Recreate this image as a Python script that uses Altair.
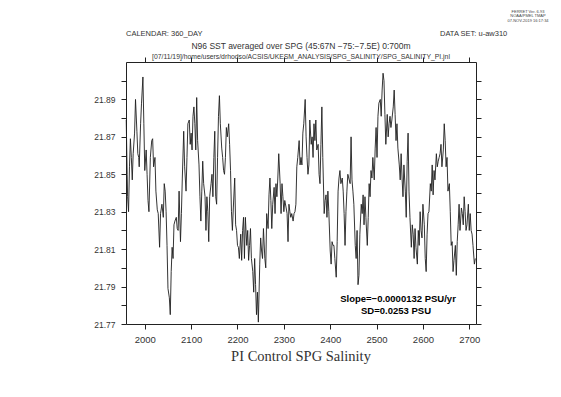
import altair as alt
import pandas as pd

years = [1960, 1962, 1963, 1965, 1967, 1969, 1971, 1973, 1975, 1978, 1980, 1983, 1985, 1987, 1988,
         1991, 1993, 1996, 1998, 2000, 2003, 2005, 2007, 2009, 2012, 2015, 2017, 2019, 2022, 2024,
         2027, 2029, 2032, 2034, 2037, 2040, 2042, 2044, 2046, 2048, 2050, 2053, 2055, 2057, 2059,
         2061, 2063, 2065, 2068, 2070, 2072, 2074, 2077, 2079, 2081, 2084, 2086, 2089, 2091, 2093,
         2096, 2098, 2100, 2102, 2104,
         2106, 2108, 2110, 2112, 2114, 2117, 2119, 2121, 2123, 2125, 2127, 2130, 2132, 2134, 2136,
         2138, 2140, 2143, 2145, 2147, 2149, 2151, 2153, 2155, 2157, 2159, 2161, 2163, 2166, 2168,
         2170, 2172, 2174, 2176, 2178, 2181, 2183, 2185, 2187, 2189, 2191, 2194, 2196, 2198, 2200,
         2202, 2204, 2207, 2209, 2211, 2213, 2215, 2217, 2220, 2222, 2224, 2226, 2228, 2230, 2233,
         2235, 2237, 2239, 2241, 2243, 2245, 2248, 2250, 2252, 2254, 2256,
         2259, 2261, 2263, 2266, 2268, 2270, 2272, 2274, 2276, 2279, 2281, 2283, 2285, 2287, 2289,
         2292, 2294, 2296, 2298, 2300, 2302, 2305, 2307, 2309, 2311, 2313, 2315, 2317, 2320, 2322,
         2324, 2326, 2328, 2330, 2333, 2335, 2337, 2339, 2341, 2343, 2346, 2348, 2350, 2352, 2354,
         2356, 2359, 2361, 2363, 2365, 2367, 2369, 2371, 2374, 2376, 2378, 2380, 2382, 2384, 2387,
         2389, 2391, 2393, 2395, 2397, 2400, 2402, 2404, 2406,
         2408, 2410, 2413, 2415, 2417, 2419, 2421, 2423, 2426, 2428, 2430, 2432, 2434, 2436, 2438,
         2441, 2443, 2445, 2447, 2449, 2451, 2454, 2456, 2458, 2460, 2462, 2464, 2467, 2469, 2471,
         2473, 2475, 2477, 2480, 2482, 2484, 2486, 2488, 2490, 2492, 2495, 2497, 2499, 2501, 2503,
         2505, 2508, 2510, 2512, 2514, 2516, 2518, 2520, 2523, 2525, 2527, 2529, 2531, 2533, 2536,
         2538, 2540, 2542, 2544, 2546, 2549, 2551, 2553, 2555, 2557,
         2559, 2562, 2564, 2566, 2568, 2570, 2572, 2575, 2577, 2579, 2581, 2583, 2585, 2588, 2590,
         2592, 2594, 2596, 2598, 2600, 2603, 2605, 2607, 2609, 2611, 2613, 2616, 2618, 2620, 2622,
         2624, 2626, 2629, 2631, 2633, 2635, 2637, 2639, 2641, 2644, 2646, 2648, 2650, 2652, 2654,
         2657, 2659, 2661, 2663, 2665, 2667, 2670, 2672, 2674, 2676, 2678, 2680, 2683, 2685, 2687,
         2689, 2691, 2693, 2695, 2698, 2700, 2702, 2704, 2706, 2708, 2711, 2713]

salinity = [21.879, 21.850, 21.838, 21.830, 21.854, 21.869, 21.859, 21.847, 21.861, 21.872, 21.890, 21.873, 21.861, 21.859, 21.854,
            21.877, 21.888, 21.902, 21.877, 21.852, 21.863, 21.850, 21.836, 21.830, 21.859, 21.868, 21.869, 21.854, 21.859, 21.841,
            21.831, 21.829, 21.811, 21.829, 21.834, 21.827, 21.845, 21.841, 21.830, 21.812, 21.789, 21.784, 21.775, 21.798, 21.811,
            21.805, 21.823, 21.825, 21.827, 21.821, 21.820, 21.841, 21.814, 21.829, 21.848, 21.873, 21.854, 21.841, 21.859, 21.877,
            21.879, 21.866, 21.872, 21.863, 21.881,
            21.886, 21.877, 21.863, 21.891, 21.868, 21.855, 21.838, 21.825, 21.841, 21.857, 21.845, 21.838, 21.820, 21.838, 21.830,
            21.814, 21.838, 21.845, 21.850, 21.838, 21.859, 21.873, 21.838, 21.834, 21.859, 21.881, 21.892, 21.877, 21.864, 21.859,
            21.852, 21.850, 21.859, 21.875, 21.870, 21.877, 21.866, 21.852, 21.830, 21.820, 21.832, 21.848, 21.823, 21.820, 21.812,
            21.811, 21.805, 21.818, 21.804, 21.820, 21.827, 21.805, 21.827, 21.812, 21.820, 21.804, 21.812, 21.821, 21.805, 21.798,
            21.787, 21.805, 21.791, 21.775, 21.787, 21.771, 21.802, 21.816, 21.809, 21.805, 21.821,
            21.805, 21.800, 21.829, 21.821, 21.839, 21.848, 21.836, 21.821, 21.834, 21.843, 21.829, 21.845, 21.838, 21.848, 21.861,
            21.845, 21.829, 21.845, 21.838, 21.830, 21.836, 21.832, 21.829, 21.814, 21.834, 21.830, 21.827, 21.829, 21.825, 21.829,
            21.830, 21.834, 21.854, 21.859, 21.868, 21.855, 21.859, 21.855, 21.872, 21.877, 21.890, 21.870, 21.859, 21.850, 21.855,
            21.879, 21.866, 21.870, 21.859, 21.877, 21.868, 21.879, 21.863, 21.866, 21.850, 21.845, 21.866, 21.886, 21.859, 21.829,
            21.836, 21.839, 21.827, 21.841, 21.830, 21.809, 21.802, 21.814, 21.812,
            21.812, 21.805, 21.795, 21.814, 21.841, 21.848, 21.852, 21.845, 21.848, 21.841, 21.829, 21.812, 21.830, 21.841, 21.850,
            21.847, 21.845, 21.870, 21.847, 21.841, 21.834, 21.812, 21.805, 21.820, 21.791, 21.796, 21.818, 21.834, 21.829, 21.839,
            21.823, 21.838, 21.827, 21.812, 21.827, 21.845, 21.838, 21.852, 21.848, 21.859, 21.847, 21.864, 21.875, 21.859, 21.881,
            21.888, 21.890, 21.881, 21.895, 21.904, 21.900, 21.882, 21.866, 21.882, 21.870, 21.877, 21.881, 21.875, 21.879, 21.886,
            21.895, 21.882, 21.868, 21.877, 21.864, 21.855, 21.847, 21.861, 21.848, 21.838,
            21.855, 21.841, 21.827, 21.857, 21.872, 21.841, 21.827, 21.811, 21.823, 21.818, 21.805, 21.821, 21.811, 21.802, 21.820,
            21.812, 21.830, 21.820, 21.816, 21.834, 21.823, 21.805, 21.798, 21.818, 21.829, 21.830, 21.845, 21.841, 21.855, 21.839,
            21.852, 21.847, 21.861, 21.854, 21.857, 21.859, 21.861, 21.866, 21.854, 21.863, 21.877, 21.868, 21.854, 21.859, 21.841,
            21.845, 21.830, 21.812, 21.814, 21.798, 21.804, 21.812, 21.796, 21.814, 21.823, 21.834, 21.820, 21.832, 21.829, 21.823,
            21.838, 21.830, 21.820, 21.823, 21.834, 21.820, 21.829, 21.820, 21.818, 21.812, 21.802, 21.805]

x_ticks = [2000, 2100, 2200, 2300, 2400, 2500, 2600, 2700]
y_ticks = [21.77, 21.78, 21.79, 21.80, 21.81, 21.82, 21.83, 21.84, 21.85, 21.86, 21.87, 21.88, 21.89, 21.90]
x_domain = [1959.5, 2714.5]
y_domain = [21.77, 21.91]

header_left = "CALENDAR: 360_DAY"
header_right = "DATA SET: u-aw310"
header_title = "N96 SST averaged over SPG (45:67N \u221275:\u22127.5E) 0:700m"
header_path = "[07/11/19]/home/users/drhodso/ACSIS/UKESM_ANALYSIS/SPG_SALINITY/SPG_SALINITY_PI.jnl"
stamp_lines = ["FERRET Ver. 6.93", "NOAA/PMEL TMAP", "07-NOV-2019 16:17:34"]
stats_lines = ["Slope=\u22120.0000132 PSU/yr", "SD=0.0253 PSU"]
main_title = "PI Control SPG Salinity"

df = pd.DataFrame({"year": years, "sal": salinity})

FONT = "Liberation Sans"
INK = "#222222"

xs = alt.Scale(domain=x_domain, nice=False, zero=False)
ys = alt.Scale(domain=y_domain, nice=False, zero=False)

label_expr = "round(datum.value*100) % 2 == 1 ? format(datum.value, '.2f') : ''"

line = alt.Chart(df).mark_line(color="#1e1e1e", strokeWidth=0.9).encode(
    x=alt.X("year:Q", scale=xs,
            axis=alt.Axis(orient="bottom", values=x_ticks, format="d", title=None, grid=False,
                          tickSize=5, tickColor=INK, domainColor=INK, labelFont=FONT,
                          labelFontSize=9.5, labelColor="#333333", labelPadding=5)),
    y=alt.Y("sal:Q", scale=ys,
            axis=alt.Axis(orient="left", values=y_ticks, labelExpr=label_expr, title=None, grid=False,
                          tickSize=5, tickColor=INK, domainColor=INK, labelFont=FONT,
                          labelFontSize=8.5, labelColor="#333333", labelPadding=6)),
)

frame = alt.Chart(df).mark_line(opacity=0).encode(
    x=alt.X("year:Q", scale=xs,
            axis=alt.Axis(orient="top", values=x_ticks, labels=False, title=None, grid=False,
                          tickSize=5, tickColor=INK, domainColor=INK)),
    y=alt.Y("sal:Q", scale=ys,
            axis=alt.Axis(orient="right", values=y_ticks, labels=False, title=None, grid=False,
                          tickSize=5, tickColor=INK, domainColor=INK)),
)


def text_layer(txt, x, y, size, align="center", weight="normal", font=FONT, color=INK):
    return alt.Chart(pd.DataFrame({"t": [txt]})).mark_text(
        align=align, baseline="middle", fontSize=size, fontWeight=weight, font=font, color=color
    ).encode(text="t:N", x=alt.value(x), y=alt.value(y))


texts = [
    text_layer(header_left, 0, -28, 7.5, align="left", color="#333333"),
    text_layer(header_right, 314, -28, 7.5, align="left", color="#333333"),
    text_layer(header_title, 175, -16, 8.5, color="#333333"),
    text_layer(header_path, 175, -5, 6.8, color="#333333"),
    text_layer(stamp_lines[0], 402, -50.5, 4, color="#444444"),
    text_layer(stamp_lines[1], 402, -46, 4, color="#444444"),
    text_layer(stamp_lines[2], 402, -41.5, 4, color="#444444"),
    text_layer(stats_lines[0], 272, 237, 9.5, weight="bold", color="black"),
    text_layer(stats_lines[1], 270, 249, 9.5, weight="bold", color="black"),
    text_layer(main_title, 175, 295, 14.5, font="Liberation Serif", color="#333333"),
]

chart = alt.layer(line, frame, *texts).resolve_axis(x="independent", y="independent").properties(
    width=350, height=262,
    autosize=alt.AutoSizeParams(type="none"),
    padding={"left": 118, "top": 54, "right": 77, "bottom": 65},
).configure_view(stroke=INK, strokeWidth=1).configure(background="white")

chart.save("out.html", embed_options={"renderer": "svg", "actions": False})
